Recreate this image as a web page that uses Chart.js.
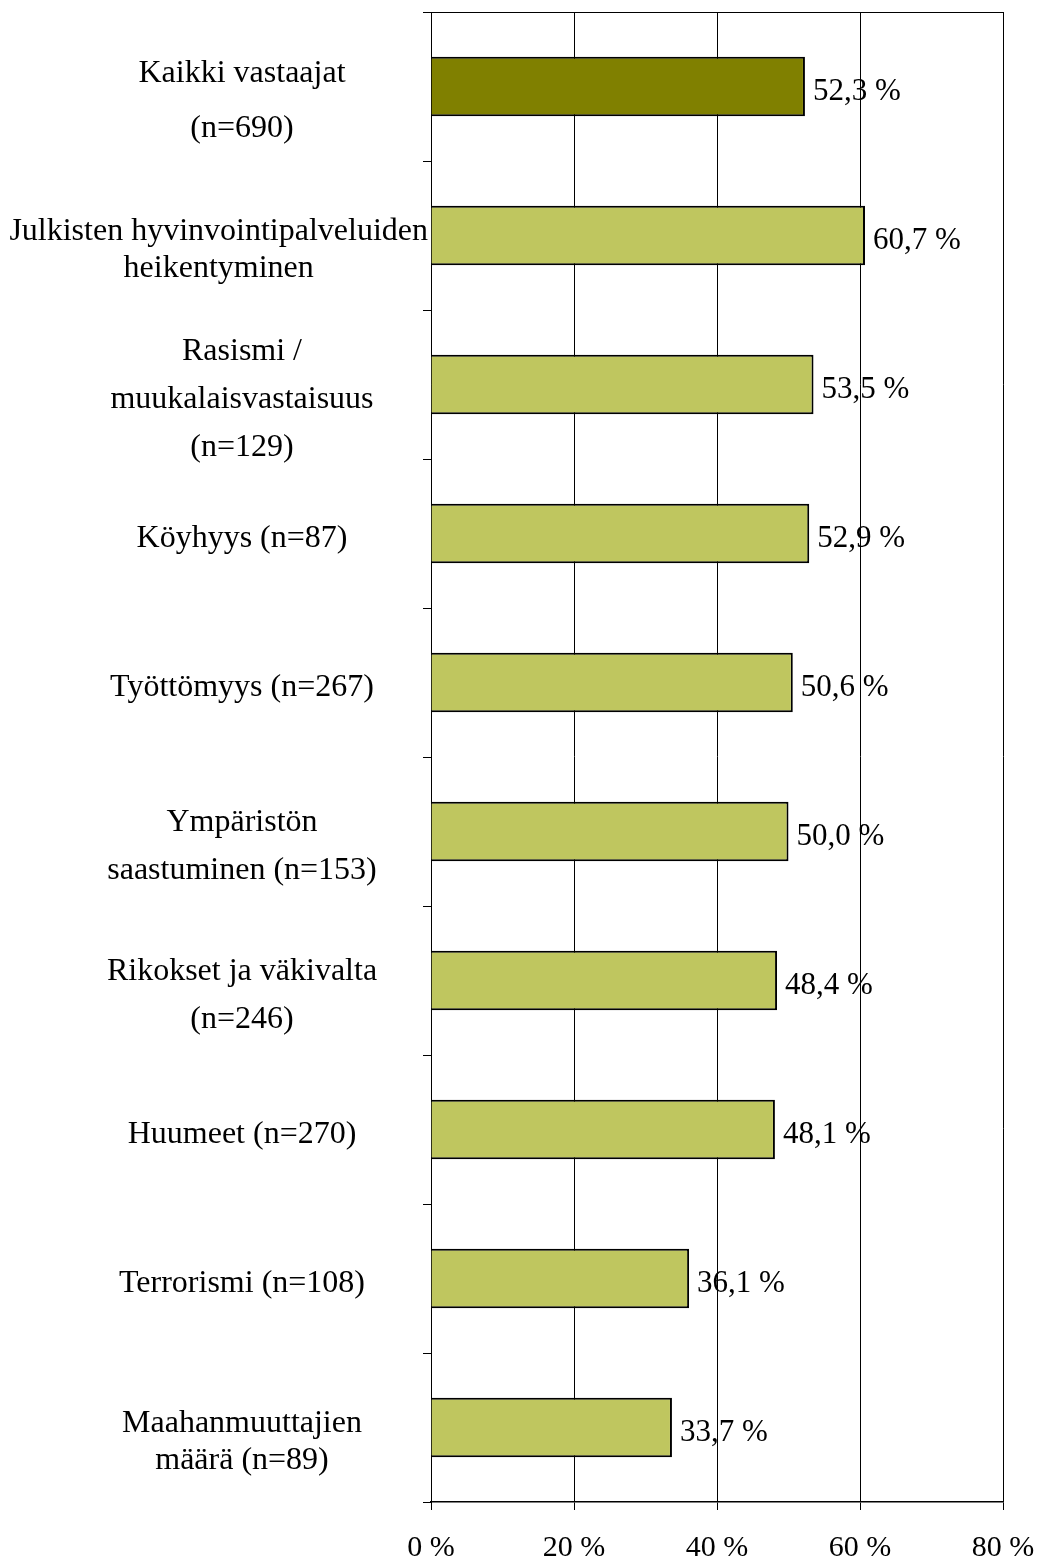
<!DOCTYPE html>
<html>
<head>
<meta charset="utf-8">
<script src="https://cdn.jsdelivr.net/npm/chart.js@4"></script>
<style>
  body { margin: 0; background: #fff; }
  #wrap { width: 1039px; height: 1560px; }
</style>
</head>
<body>
<div id="wrap"><canvas id="huoli"></canvas></div>
<script>
// kategoriat (rivit monirivisinä)
let labels = [
  ['Kaikki vastaajat', '(n=690)'],
  ['Julkisten hyvinvointipalveluiden', 'heikentyminen'],
  ['Rasismi /', 'muukalaisvastaisuus', '(n=129)'],
  'Köyhyys (n=87)',
  'Työttömyys (n=267)',
  ['Ympäristön', 'saastuminen (n=153)'],
  ['Rikokset ja väkivalta', '(n=246)'],
  'Huumeet (n=270)',
  'Terrorismi (n=108)',
  ['Maahanmuuttajien', 'määrä (n=89)']
];
let values = [52.3, 60.7, 53.5, 52.9, 50.6, 50.0, 48.4, 48.1, 36.1, 33.7];
let colors = ['#808000', '#BFC65F', '#BFC65F', '#BFC65F', '#BFC65F',
              '#BFC65F', '#BFC65F', '#BFC65F', '#BFC65F', '#BFC65F'];
let xTicks = [0, 20, 40, 60, 80];

const serif = "'Liberation Serif', 'Times New Roman', serif";

// arvot palkkien perään, "52,3 %"
const valueLabels = {
  id: 'valueLabels',
  afterDatasetsDraw(chart) {
    const ctx = chart.ctx;
    ctx.save();
    ctx.font = '31px ' + serif;
    ctx.fillStyle = '#000';
    ctx.textAlign = 'left';
    ctx.textBaseline = 'middle';
    chart.getDatasetMeta(0).data.forEach((bar, i) => {
      const txt = values[i].toFixed(1).replace('.', ',') + ' %';
      ctx.fillText(txt, bar.x + 8, bar.y + 5);
    });
    ctx.restore();
  }
};

// kategorianimet vasemmalle, keskitettyinä (kuten Excelin tekstilaatikot)
const catLabels = {
  id: 'catLabels',
  afterDraw(chart) {
    const ctx = chart.ctx;
    const y = chart.scales.y;
    ctx.save();
    ctx.font = '32px ' + serif;
    ctx.fillStyle = '#000';
    ctx.textAlign = 'center';
    ctx.textBaseline = 'middle';
    labels.forEach((lab, i) => {
      const lines = Array.isArray(lab) ? lab : [lab];
      const gap = i === 0 ? 55 : (i === 1 || i === 9 ? 37 : 48);
      const widest = Math.max(...lines.map(t => ctx.measureText(t).width));
      const cx = Math.min(242, y.right - 3 - widest / 2);
      const cy = y.getPixelForTick(i) + (lines.length > 1 ? 15 : 5);
      lines.forEach((t, k) => {
        ctx.fillText(t, cx, cy + (k - (lines.length - 1) / 2) * gap);
      });
    });
    ctx.restore();
  }
};

let mychart = document.getElementById('huoli').getContext('2d');
let chart = new Chart(mychart, {
  type: 'bar',
  data: {
    labels: labels,
    datasets: [{
      data: values,
      backgroundColor: colors,
      borderColor: '#000',
      borderWidth: 2,
      borderSkipped: 'start',
      categoryPercentage: 1,
      barPercentage: 0.4
    }]
  },
  options: {
    indexAxis: 'y',
    responsive: true,
    maintainAspectRatio: false,
    animation: false,
    devicePixelRatio: 1,
    layout: { padding: { top: 12, right: 36, bottom: 0, left: 0 } },
    plugins: {
      legend: { display: false },
      tooltip: { enabled: false }
    },
    scales: {
      x: {
        min: 0,
        max: 80,
        afterBuildTicks: (s) => { s.ticks = xTicks.map(v => ({ value: v })); },
        grid: { color: '#000', lineWidth: 1, tickLength: 8 },
        border: { color: '#000', width: 1.5 },
        ticks: {
          color: '#000',
          padding: 20,
          font: { family: serif, size: 30 },
          callback: (v) => v + ' %'
        },
        afterFit: (s) => { s.height = 58; s.paddingLeft = 0; s.paddingRight = 0; }
      },
      x2: {
        position: 'top',
        min: 0,
        max: 80,
        grid: { display: false },
        ticks: { display: false },
        border: { display: true, color: '#000', width: 1 },
        afterFit: (s) => { s.height = 0; }
      },
      y: {
        grid: {
          offset: true,
          drawOnChartArea: false,
          color: '#000',
          tickLength: 8
        },
        border: { color: '#000', width: 1 },
        ticks: { display: false, autoSkip: false },
        afterFit: (s) => { s.width = 431; s.paddingTop = 0; s.paddingBottom = 0; }
      }
    }
  },
  plugins: [valueLabels, catLabels]
});
</script>
</body>
</html>
